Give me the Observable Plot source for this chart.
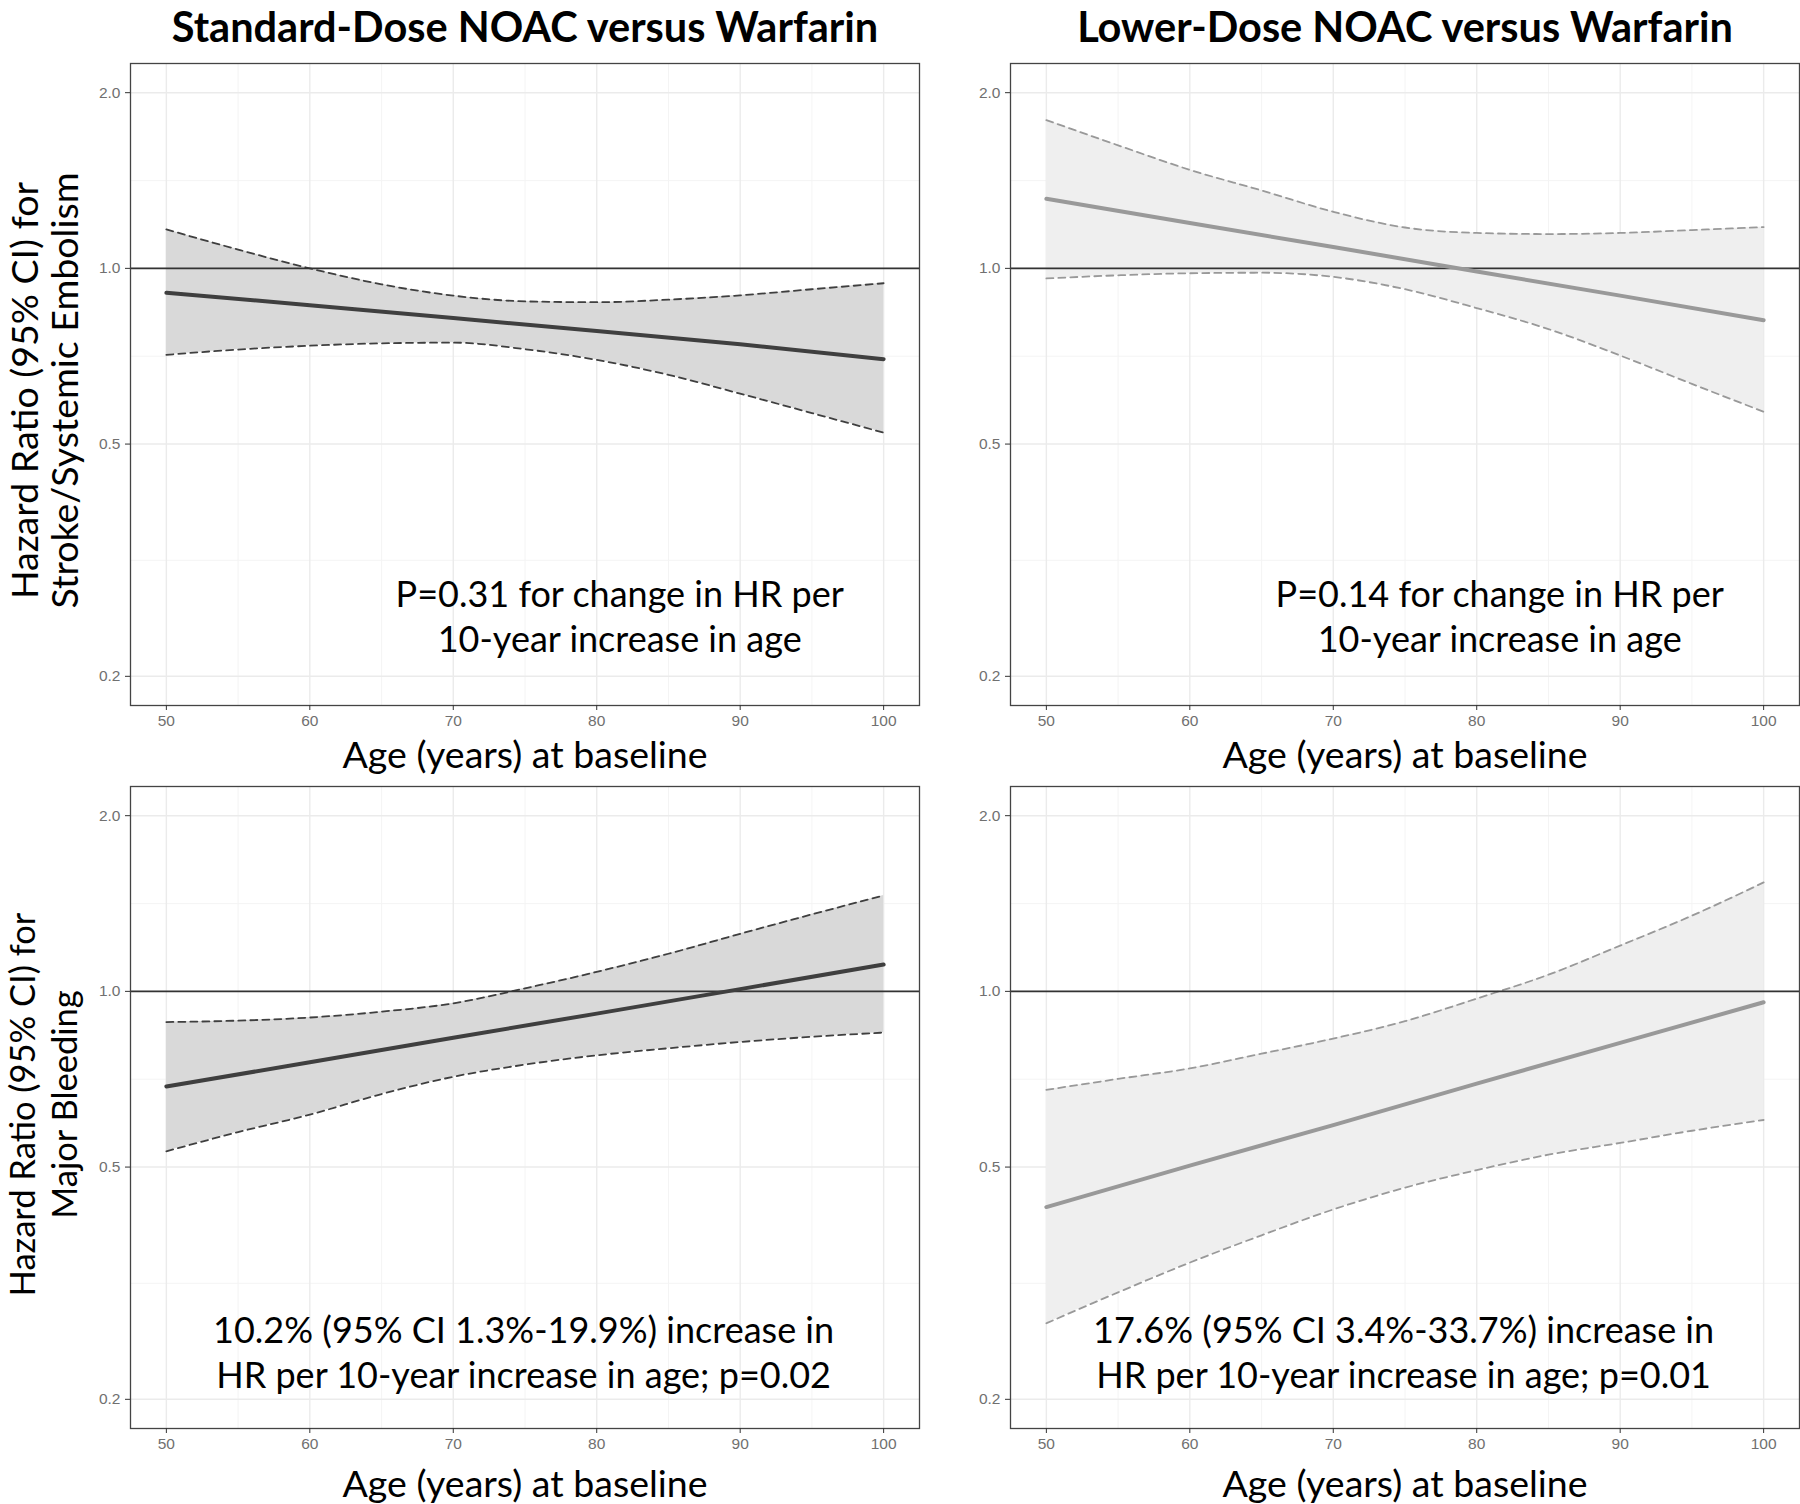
<!DOCTYPE html>
<html><head><meta charset="utf-8">
<script src="https://cdn.jsdelivr.net/npm/d3@7"></script>
<script src="https://cdn.jsdelivr.net/npm/@observablehq/plot@0.6"></script>
<style>
body{margin:0;background:#fff;}
#chart{position:relative;width:1800px;height:1504px;background:#fff;overflow:hidden}
#chart svg{position:absolute;background:transparent;}
</style></head><body><div id="chart"></div>
<script>
// ---------- data ----------
const ages = [50, 55, 60, 65, 70, 75, 80, 85, 90, 95, 100];
const agesEst = [50, 60, 70, 80, 90, 100];

const columnTitles = ["Standard-Dose NOAC versus Warfarin", "Lower-Dose NOAC versus Warfarin"];
const rowTitles = [["Hazard Ratio (95% CI) for", "Stroke/Systemic Embolism"], ["Hazard Ratio (95% CI) for", "Major Bleeding"]];
const xTitle = "Age (years) at baseline";
const xTicks = [50, 60, 70, 80, 90, 100];
const xMinor = [55, 65, 75, 85, 95];
const yTicks = [0.2, 0.5, 1.0, 2.0];
const yMinor = [0.316, 0.707, 1.414];

// Standard-dose, stroke/systemic embolism
const stdStrokeEst = [0.908, 0.865, 0.822, 0.781, 0.741, 0.699];
const stdStrokeUpper = [1.166, 1.077, 1.0, 0.939, 0.898, 0.878, 0.875, 0.884, 0.899, 0.921, 0.943];
const stdStrokeLower = [0.711, 0.726, 0.737, 0.744, 0.746, 0.727, 0.697, 0.657, 0.610, 0.565, 0.523];
// Lower-dose, stroke/systemic embolism
const lowStrokeEst = [1.316, 1.196, 1.088, 0.988, 0.898, 0.815];
const lowStrokeUpper = [1.795, 1.625, 1.475, 1.36, 1.25, 1.175, 1.15, 1.145, 1.15, 1.163, 1.177];
const lowStrokeLower = [0.961, 0.973, 0.981, 0.983, 0.967, 0.921, 0.855, 0.787, 0.709, 0.634, 0.568];
// Standard-dose, major bleeding
const stdBleedEst = [0.687, 0.756, 0.833, 0.916, 1.009, 1.112];
const stdBleedUpper = [0.886, 0.891, 0.902, 0.923, 0.954, 1.012, 1.08, 1.16, 1.255, 1.355, 1.46];
const stdBleedLower = [0.532, 0.574, 0.615, 0.667, 0.714, 0.749, 0.777, 0.799, 0.819, 0.836, 0.850];
// Lower-dose, major bleeding
const lowBleedEst = [0.427, 0.503, 0.590, 0.695, 0.816, 0.958];
const lowBleedUpper = [0.678, 0.708, 0.738, 0.782, 0.830, 0.889, 0.972, 1.068, 1.198, 1.348, 1.537];
const lowBleedLower = [0.270, 0.305, 0.343, 0.382, 0.423, 0.461, 0.494, 0.525, 0.550, 0.577, 0.602];

const annotations = [
  "P=0.31 for change in HR per\n10-year increase in age",
  "P=0.14 for change in HR per\n10-year increase in age",
  "10.2% (95% CI 1.3%-19.9%) increase in\nHR per 10-year increase in age; p=0.02",
  "17.6% (95% CI 3.4%-33.7%) increase in\nHR per 10-year increase in age; p=0.01"
];

// ---------- layout / style ----------
const cols = [{left: 0, width: 920, ml: 130, mr: 1}, {left: 920, width: 880, ml: 90, mr: 1}];
const rows = [
  {top: 0, height: 775, mt: 63, xTitleDy: 62.5, yTitleDx: -53, yTitleDy: 6, yTitleSize: 37.5, yTitleGap: 40},
  {top: 775, height: 729, mt: 11, xTitleDy: 68, yTitleDx: -54, yTitleDy: -3, yTitleSize: 34.5, yTitleGap: 42}
];
const annPos = [{x: 81.6, y: 0.255}, {x: 81.6, y: 0.255}, {x: 74.9, y: 0.242}, {x: 74.9, y: 0.242}];
const palette = {
  standard: {fill: "#d9d9d9", line: "#3f3f3f"},
  lower: {fill: "#efefef", line: "#999999"}
};
const textFont = "Lato, 'Open Sans', sans-serif";
const tickFont = "'Liberation Sans', Arial, sans-serif";

const panels = [
  {row: 0, col: 0, est: stdStrokeEst, up: stdStrokeUpper, lo: stdStrokeLower, pal: palette.standard},
  {row: 0, col: 1, est: lowStrokeEst, up: lowStrokeUpper, lo: lowStrokeLower, pal: palette.lower},
  {row: 1, col: 0, est: stdBleedEst, up: stdBleedUpper, lo: stdBleedLower, pal: palette.standard},
  {row: 1, col: 1, est: lowBleedEst, up: lowBleedUpper, lo: lowBleedLower, pal: palette.lower}
];

const xDomain = [47.5, 102.5];
const yDomain = [0.2 / Math.pow(10, 0.05), 2.0 * Math.pow(10, 0.05)];
const frameH = 642;

const chart = document.getElementById("chart");

panels.forEach((p, i) => {
  const c = cols[p.col], r = rows[p.row];
  const band = ages.map((a, k) => ({age: a, lo: p.lo[k], up: p.up[k]}));
  const est = agesEst.map((a, k) => ({age: a, hr: p.est[k]}));
  const marks = [
    Plot.ruleX(xMinor, {stroke: "#f3f3f3", strokeWidth: 0.9}),
    Plot.ruleY(yMinor, {stroke: "#f3f3f3", strokeWidth: 0.9}),
    Plot.ruleX(xTicks, {stroke: "#ebebeb", strokeWidth: 1.4}),
    Plot.ruleY(yTicks, {stroke: "#ebebeb", strokeWidth: 1.4}),
    Plot.areaY(band, {x: "age", y1: "lo", y2: "up", fill: p.pal.fill, curve: "monotone-x"}),
    Plot.line(band, {x: "age", y: "up", stroke: p.pal.line, strokeWidth: 1.8, strokeDasharray: "7,5", curve: "monotone-x"}),
    Plot.line(band, {x: "age", y: "lo", stroke: p.pal.line, strokeWidth: 1.8, strokeDasharray: "7,5", curve: "monotone-x"}),
    Plot.ruleY([1], {stroke: "#333333", strokeWidth: 1.6}),
    Plot.line(est, {x: "age", y: "hr", stroke: p.pal.line, strokeWidth: 4}),
    Plot.frame({stroke: "#444444", strokeWidth: 1.3}),
    Plot.axisX(xTicks, {tickSize: 5, tickPadding: 4, fontSize: 15.5, fontFamily: tickFont, stroke: "#333", fill: "#707070", label: null}),
    Plot.axisY(yTicks, {tickSize: 5, tickPadding: 5, fontSize: 15.5, fontFamily: tickFont, stroke: "#333", fill: "#707070", tickFormat: d3.format(".1f"), label: null}),
    Plot.text([xTitle], {frameAnchor: "bottom", dy: r.xTitleDy, lineAnchor: "bottom", fontSize: 37.5, fontFamily: textFont, fill: "#000"}),
    Plot.text([{...annPos[i], t: annotations[i]}], {x: "x", y: "y", text: "t", lineAnchor: "middle", lineHeight: 1.25, fontSize: 36, fontFamily: textFont, fill: "#000"})
  ];
  if (p.row === 0) {
    marks.push(Plot.text([columnTitles[p.col]], {frameAnchor: "top", dy: 41.5 - r.mt, lineAnchor: "bottom", fontSize: 41.5, fontWeight: "bold", fontFamily: textFont, fill: "#000"}));
  }
  if (p.col === 0) {
    marks.push(Plot.text([rowTitles[p.row].join("\n")], {frameAnchor: "left", textAnchor: "middle", dx: r.yTitleDx, dy: r.yTitleDy, rotate: -90, lineAnchor: "bottom", lineHeight: r.yTitleGap / r.yTitleSize, fontSize: r.yTitleSize, fontFamily: textFont, fill: "#000"}));
  }
  const svg = Plot.plot({
    width: c.width, height: r.height,
    marginLeft: c.ml, marginRight: c.mr, marginTop: r.mt, marginBottom: r.height - (r.mt + frameH),
    x: {type: "linear", domain: xDomain},
    y: {type: "log", domain: yDomain},
    style: {background: "transparent", overflow: "visible"},
    marks
  });
  svg.style.left = c.left + "px";
  svg.style.top = r.top + "px";
  svg.style.position = "absolute";
  chart.appendChild(svg);
});
</script></body></html>
